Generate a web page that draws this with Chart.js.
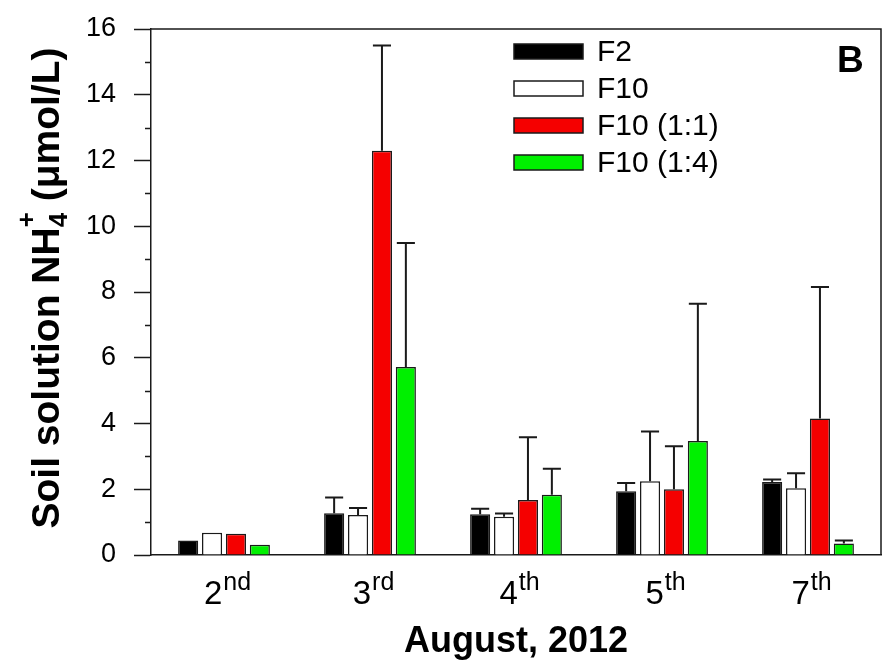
<!DOCTYPE html>
<html><head><meta charset="utf-8">
<script src="https://cdn.jsdelivr.net/npm/chart.js@4"></script>
<style>html,body{margin:0;padding:0;background:#fff;} #wrap{width:883px;height:668px;position:relative;}</style>
</head><body><div id="wrap"><canvas id="c"></canvas></div>
<script>
// ---- data ----
const categories = ['2', '3', '4', '5', '7'];
const categorySuffixes = ['nd', 'rd', 'th', 'th', 'th'];
const seriesNames = ['F2', 'F10', 'F10 (1:1)', 'F10 (1:4)'];
const f2Values  = [0.44, 1.27, 1.24, 1.94, 2.22];
const f2Errors  = [0, 0.48, 0.17, 0.25, 0.08];
const f10Values = [0.68, 1.22, 1.16, 2.24, 2.03];
const f10Errors = [0, 0.21, 0.10, 1.52, 0.46];
const f10r11Values = [0.65, 12.30, 1.67, 2.00, 4.15];
const f10r11Errors = [0, 3.20, 1.91, 1.31, 4.00];
const f10r14Values = [0.31, 5.72, 1.83, 3.47, 0.35];
const f10r14Errors = [0, 3.77, 0.79, 4.17, 0.09];
const yTickValues = [0, 2, 4, 6, 8, 10, 12, 14, 16];
const yMinorTickValues = [1, 3, 5, 7, 9, 11, 13, 15];
const xTitle = 'August, 2012';
const panelLetter = 'B';

const fills = ['#000000', '#ffffff', '#f50000', '#00f000'];
const values = [f2Values, f10Values, f10r11Values, f10r14Values];
const errors = [f2Errors, f10Errors, f10r11Errors, f10r14Errors];

const FONT = "'Liberation Sans', Arial, sans-serif";
const NARROW = "'Liberation Sans Narrow', 'Arial Narrow', 'Liberation Sans', Arial, sans-serif";
const INK = '#1a1a1a';

const errorBarPlugin = {
  id: 'errorBars',
  afterDatasetsDraw(chart) {
    const ctx = chart.ctx, ys = chart.scales.y;
    ctx.save();
    ctx.strokeStyle = INK; ctx.lineWidth = 2;
    chart.data.datasets.forEach((ds, di) => {
      const meta = chart.getDatasetMeta(di);
      meta.data.forEach((bar, i) => {
        const e = ds.errors[i];
        if (!e) return;
        const yt = ys.getPixelForValue(ds.data[i] + e);
        const half = bar.width * 0.45;
        ctx.beginPath();
        ctx.moveTo(bar.x, bar.y); ctx.lineTo(bar.x, yt);
        ctx.moveTo(bar.x - half, yt); ctx.lineTo(bar.x + half, yt);
        ctx.stroke();
      });
    });
    ctx.restore();
  }
};

const decorPlugin = {
  id: 'decor',
  afterDraw(chart) {
    const ctx = chart.ctx, a = chart.chartArea, xs = chart.scales.x, ys = chart.scales.y;
    ctx.save();
    // frame (top and right)
    ctx.strokeStyle = INK; ctx.lineWidth = 1.5;
    ctx.beginPath();
    ctx.moveTo(a.left, a.top); ctx.lineTo(a.right, a.top); ctx.lineTo(a.right, a.bottom);
    ctx.stroke();
    // minor ticks
    ctx.beginPath();
    yMinorTickValues.forEach(v => {
      const y = Math.round(ys.getPixelForValue(v)) + 0.5;
      ctx.moveTo(a.left - 6, y); ctx.lineTo(a.left, y);
    });
    ctx.stroke();
    // x tick labels with superscripts
    ctx.fillStyle = '#000';
    ctx.textBaseline = 'alphabetic';
    ctx.textAlign = 'left';
    categories.forEach((c, i) => {
      const x = xs.getPixelForTick(i);
      ctx.font = '33px ' + NARROW;
      const w1 = ctx.measureText(c).width;
      ctx.font = '25px ' + NARROW;
      const w2 = ctx.measureText(categorySuffixes[i]).width;
      const x0 = x - (w1 + w2) / 2 + 3;
      ctx.font = '33px ' + NARROW;
      ctx.fillText(c, x0, 604);
      ctx.font = '25px ' + NARROW;
      ctx.fillText(categorySuffixes[i], x0 + w1 + 1, 590);
    });
    // x title
    ctx.font = 'bold 36px ' + FONT;
    ctx.textAlign = 'center';
    ctx.fillText(xTitle, (a.left + a.right) / 2, 652);
    // panel letter
    ctx.textAlign = 'left';
    ctx.font = 'bold 37px ' + FONT;
    ctx.fillText(panelLetter, 837, 72);
    // y title, rotated, with NH4+ sub/superscript
    const parts = [
      {t: 'Soil solution NH', f: 'bold 39px ' + FONT, dy: 0},
      {t: '4', f: 'bold 26px ' + FONT, dy: 8},
      {t: '+', f: 'bold 26px ' + FONT, dy: -24},
      {t: ' (\u03bcmol/L)', f: 'bold 39px ' + FONT, dy: 0}
    ];
    parts.forEach(p => { ctx.font = p.f; p.w = ctx.measureText(p.t).width; });
    const mid = Math.max(parts[1].w, parts[2].w);
    const total = parts[0].w + mid + parts[3].w;
    ctx.translate(59, (a.top + a.bottom) / 2 - 4);
    ctx.rotate(-Math.PI / 2);
    let cx = -total / 2;
    ctx.font = parts[0].f; ctx.fillText(parts[0].t, cx, 0); cx += parts[0].w;
    ctx.font = parts[1].f; ctx.fillText(parts[1].t, cx, parts[1].dy);
    ctx.font = parts[2].f; ctx.fillText(parts[2].t, cx, parts[2].dy);
    cx += mid;
    ctx.font = parts[3].f; ctx.fillText(parts[3].t, cx, 0);
    ctx.restore();

    // legend
    ctx.save();
    ctx.font = '30px ' + FONT;
    ctx.textBaseline = 'middle';
    chart.data.datasets.forEach((ds, i) => {
      const yc = 51.5 + i * 37;
      ctx.fillStyle = ds.backgroundColor;
      ctx.fillRect(514, yc - 7.5, 69, 15);
      ctx.strokeStyle = INK; ctx.lineWidth = 1.5;
      ctx.strokeRect(514, yc - 7.5, 69, 15);
      ctx.fillStyle = '#000';
      ctx.fillText(ds.label, 597, yc + 1);
    });
    ctx.restore();
  }
};

new Chart(document.getElementById('c'), {
  type: 'bar',
  data: {
    labels: categories.map((c, i) => c + categorySuffixes[i]),
    datasets: seriesNames.map((n, i) => ({
      label: n,
      data: values[i],
      errors: errors[i],
      backgroundColor: fills[i],
      borderColor: INK,
      borderWidth: 1.5,
      categoryPercentage: 0.655,
      barPercentage: 0.84
    }))
  },
  options: {
    responsive: true,
    maintainAspectRatio: false,
    animation: false,
    events: [],
    layout: { padding: { top: 29, right: 2, bottom: 0, left: 0 } },
    plugins: { legend: { display: false }, tooltip: { enabled: false } },
    scales: {
      x: {
        grid: { display: false, drawTicks: false },
        border: { display: true, color: INK, width: 1.5 },
        ticks: { display: false },
        afterFit(s) { s.height = 113; s.paddingLeft = 0; s.paddingRight = 0; }
      },
      y: {
        min: 0, max: 16,
        afterBuildTicks(s) { s.ticks = yTickValues.map(v => ({ value: v })); },
        grid: { drawOnChartArea: false, drawTicks: true, tickLength: 17, tickWidth: 1.5, tickColor: INK },
        border: { display: true, color: INK, width: 1.5 },
        ticks: { color: '#000', padding: 18, font: { family: FONT, size: 27 } },
        afterFit(s) { s.width = 151; s.paddingTop = 0; s.paddingBottom = 0; }
      }
    }
  },
  plugins: [errorBarPlugin, decorPlugin]
});
</script></body></html>
